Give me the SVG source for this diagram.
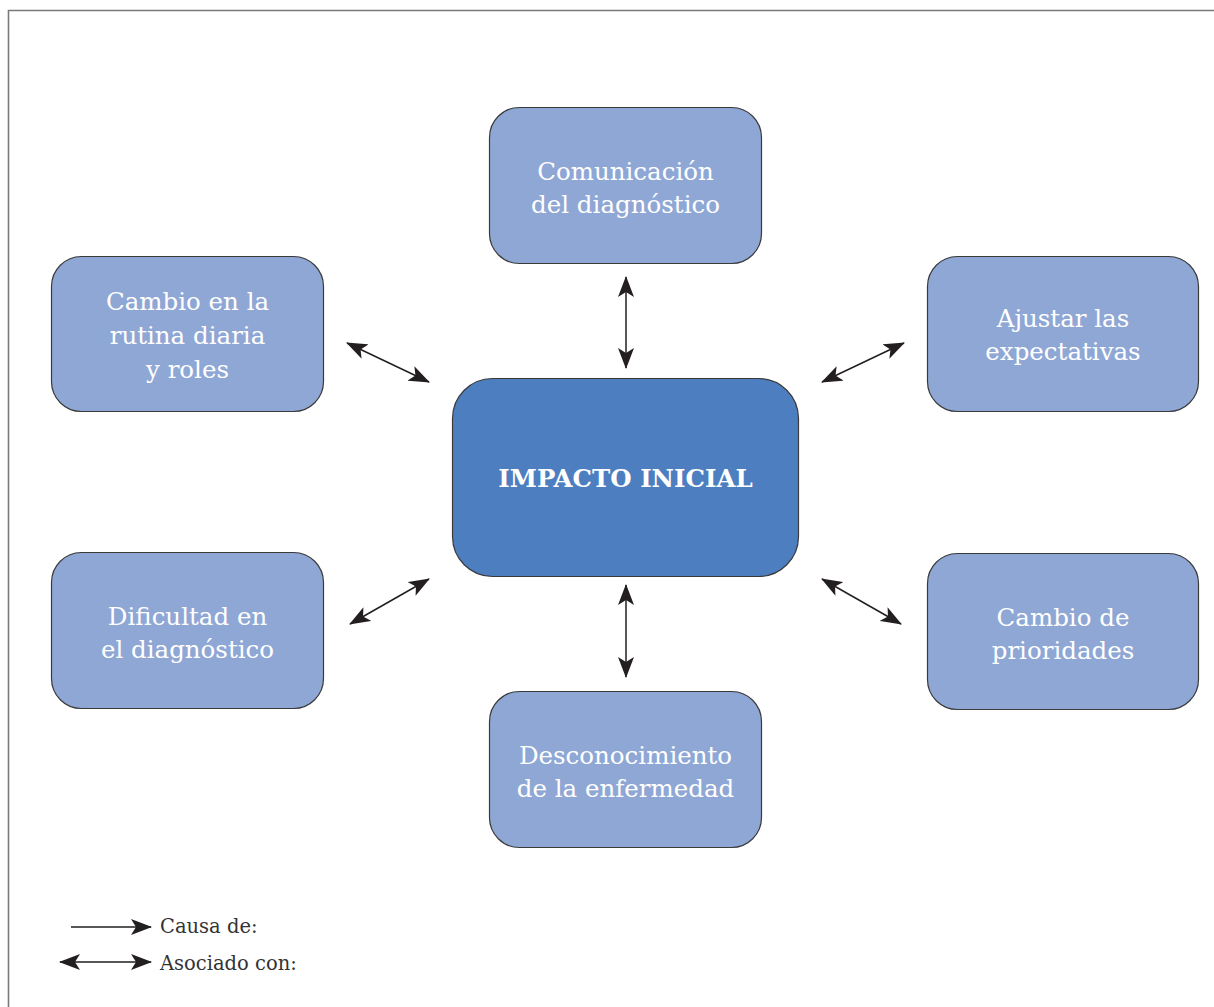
<svg xmlns="http://www.w3.org/2000/svg" width="1214" height="1007" viewBox="0 0 1214 1007">
  <style>
    .node { fill: #8fa7d5; stroke: #3a3a3a; stroke-width: 1.2; }
    .core { fill: #4d7ebf; stroke: #3a3a3a; stroke-width: 1.2; }
    .label { font-family: "DejaVu Serif", "Liberation Serif", serif; font-size: 24.5px; fill: #ffffff; text-anchor: middle; }
    .title { font-family: "DejaVu Serif", "Liberation Serif", serif; font-size: 24.5px; font-weight: bold; fill: #ffffff; text-anchor: middle; }
    .link { stroke: #231f20; stroke-width: 1.5; fill: none; }
    .legend { font-family: "DejaVu Serif", "Liberation Serif", serif; font-size: 19.5px; fill: #333333; }
  </style>
  <defs>
    <marker id="ah" viewBox="0 0 21 16" refX="20" refY="8" markerWidth="21" markerHeight="16" markerUnits="userSpaceOnUse" orient="auto-start-reverse">
      <path d="M0,0 L21,8 L0,16 L5,8 z" fill="#231f20"/>
    </marker>
  </defs>

  <rect width="1214" height="1007" fill="#ffffff"/>
  <!-- frame -->
  <path d="M8.5,1007 V10.5 H1214" fill="none" stroke="#7a7a7a" stroke-width="1.6"/>

  <!-- connectors -->
  <g id="connectors">
    <line class="link" x1="626" y1="277" x2="626" y2="368" marker-start="url(#ah)" marker-end="url(#ah)"/>
    <line class="link" x1="626" y1="585" x2="626" y2="677" marker-start="url(#ah)" marker-end="url(#ah)"/>
    <line class="link" x1="347" y1="343" x2="429" y2="382" marker-start="url(#ah)" marker-end="url(#ah)"/>
    <line class="link" x1="904" y1="343" x2="822" y2="382" marker-start="url(#ah)" marker-end="url(#ah)"/>
    <line class="link" x1="429" y1="579" x2="350" y2="624" marker-start="url(#ah)" marker-end="url(#ah)"/>
    <line class="link" x1="822" y1="579" x2="901" y2="624" marker-start="url(#ah)" marker-end="url(#ah)"/>
  </g>

  <g id="impacto-inicial">
    <rect class="core" x="452.5" y="378.5" width="346" height="198" rx="40"/>
    <text class="title" x="625.5" y="487">IMPACTO INICIAL</text>
  </g>

  <g id="comunicacion-diagnostico">
    <rect class="node" x="489.5" y="107.5" width="272" height="156" rx="30"/>
    <text class="label" x="625.5" y="180">Comunicación</text>
    <text class="label" x="625.5" y="213">del diagnóstico</text>
  </g>

  <g id="cambio-rutina">
    <rect class="node" x="51.5" y="256.5" width="272" height="155" rx="30"/>
    <text class="label" x="187.5" y="310">Cambio en la</text>
    <text class="label" x="187.5" y="344">rutina diaria</text>
    <text class="label" x="187.5" y="378">y roles</text>
  </g>

  <g id="ajustar-expectativas">
    <rect class="node" x="927.5" y="256.5" width="271" height="155" rx="30"/>
    <text class="label" x="1063" y="327">Ajustar las</text>
    <text class="label" x="1063" y="360">expectativas</text>
  </g>

  <g id="dificultad-diagnostico">
    <rect class="node" x="51.5" y="552.5" width="272" height="156" rx="30"/>
    <text class="label" x="187.5" y="625">Dificultad en</text>
    <text class="label" x="187.5" y="658">el diagnóstico</text>
  </g>

  <g id="cambio-prioridades">
    <rect class="node" x="927.5" y="553.5" width="271" height="156" rx="30"/>
    <text class="label" x="1063" y="626">Cambio de</text>
    <text class="label" x="1063" y="659">prioridades</text>
  </g>

  <g id="desconocimiento-enfermedad">
    <rect class="node" x="489.5" y="691.5" width="272" height="156" rx="30"/>
    <text class="label" x="625.5" y="764">Desconocimiento</text>
    <text class="label" x="625.5" y="797">de la enfermedad</text>
  </g>

  <!-- legend -->
  <g id="legend">
    <line class="link" x1="71" y1="927" x2="151" y2="927" marker-end="url(#ah)"/>
    <line class="link" x1="60" y1="962" x2="151" y2="962" marker-start="url(#ah)" marker-end="url(#ah)"/>
    <text class="legend" x="160" y="933">Causa de:</text>
    <text class="legend" x="160" y="970">Asociado con:</text>
  </g>
</svg>
